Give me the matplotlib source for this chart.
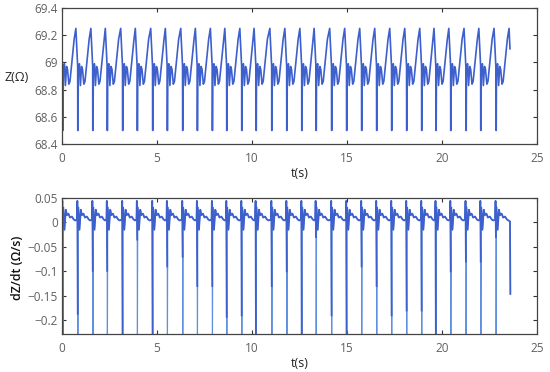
import numpy as np
import matplotlib
matplotlib.use('Agg')
import matplotlib.pyplot as plt
from matplotlib.ticker import FuncFormatter

# beat (systolic drop) times, seconds
beat_times = [0.04, 0.83, 1.62, 2.38, 3.19, 3.96, 4.77, 5.54, 6.35, 7.12,
              7.91, 8.67, 9.46, 10.21, 11.04, 11.83, 12.62, 13.37, 14.19, 14.98,
              15.77, 16.56, 17.35, 18.14, 18.93, 19.68, 20.46, 21.26, 22.04, 22.84]
end_beat = 23.63      # the record stops just before this beat
t_stop = 23.60

# one impedance cycle, offsets (s) from the beat and Z values (ohm)
z_offsets = [-0.10, -0.05, -0.004, 0.0, 0.015, 0.03, 0.09, 0.14, 0.20, 0.25, 0.32, 0.38, 0.50, 0.60]
z_shape = [69.25, 69.10, 68.97, 68.50, 68.50, 68.97, 68.99, 68.83, 68.97, 68.95, 68.84, 68.86, 69.03, 69.17]
z_start = 69.02

# one dZ/dt cycle; None marks the spike depth, -0.30 is the off-scale sample
dz_offsets = [-0.04, -0.02, 0.0, 0.008, 0.03, 0.09, 0.16, 0.22, 0.30, 0.38, 0.48, 0.58, 0.66]
dz_shape = [0.006, 0.044, None, -0.30, 0.03, -0.015, 0.026, 0.015, 0.018, 0.010, 0.012, 0.006, 0.004]
# depth the spike reaches before running off the axis (-0.26 = off-scale)
dz_depths = [-0.26, -0.187, -0.099, -0.099, -0.26, -0.035, -0.26, -0.09, -0.07, -0.13,
             -0.13, -0.193, -0.19, -0.26, -0.13, -0.10, -0.26, -0.03, -0.19, -0.26,
             -0.09, -0.13, -0.19, -0.18, -0.18, -0.26, -0.10, -0.08, -0.08, -0.03]
dz_end_t = [23.58, 23.60]
dz_end_v = [0.002, -0.146]

# assemble the Z trace
tz, z = [0.0], [z_start]
for b in beat_times + [end_beat]:
    for off, v in zip(z_offsets, z_shape):
        if 0 < b + off <= t_stop:
            tz.append(b + off)
            z.append(v)

# assemble the dZ/dt trace
td, dz, offscale = [], [], []
for b, d in zip(beat_times, dz_depths):
    for off, v in zip(dz_offsets, dz_shape):
        if b + off < 0:
            continue
        td.append(b + off)
        dz.append(d if v is None else v)
        offscale.append(v == -0.30)
td += dz_end_t
dz += dz_end_v
offscale += [False, False]
td = np.array(td)
dz = np.array(dz)
dz_dark = np.ma.masked_where(np.array(offscale), dz)

line_col = '#3d60cc'
light_col = '#5f8fe0'

plt.rcParams['font.family'] = ['Open Sans', 'DejaVu Sans']
fig = plt.figure(figsize=(5.5, 3.72), dpi=100)
ax1 = fig.add_axes([0.1127, 0.6129, 0.8636, 0.3656])
ax2 = fig.add_axes([0.1127, 0.1022, 0.8636, 0.3656])

ax1.plot(tz, z, color=line_col, lw=1.2)
ax1.set_xlim(0, 25)
ax1.set_ylim(68.4, 69.4)
ax1.set_yticks([68.4, 68.6, 68.8, 69.0, 69.2, 69.4])
ax1.set_xticks([0, 5, 10, 15, 20, 25])

ax2.plot(td, dz, color=light_col, lw=0.8)
ax2.plot(td, dz_dark, color=line_col, lw=1.3)
ax2.set_xlim(0, 25)
ax2.set_ylim(-0.228, 0.05)
ax2.set_yticks([-0.2, -0.15, -0.1, -0.05, 0, 0.05])
ax2.set_xticks([0, 5, 10, 15, 20, 25])

fmt = FuncFormatter(lambda v, p: ('%g' % round(v, 4)).replace('-', '\u2212'))
for ax in (ax1, ax2):
    ax.yaxis.set_major_formatter(fmt)
    ax.tick_params(direction='in', length=3, width=0.8, top=True, right=True,
                   labelsize=8.5, labelcolor='#606060', color='#333333')
    ax.tick_params(axis='x', pad=6)
    ax.tick_params(axis='y', pad=3)
    for s in ax.spines.values():
        s.set_color('#444444')
        s.set_linewidth(0.9)
    ax.set_xlabel('t(s)', fontsize=9, labelpad=1, color='#222222')

ax1.set_ylabel('Z(\u03a9)', fontsize=9, rotation=0, ha='center', va='center', color='#222222')
ax1.yaxis.set_label_coords(-0.095, 0.49)
ax2.set_ylabel('dZ/dt (\u03a9/s)', fontsize=9, rotation=90, ha='center', va='center',
               color='#111111', fontweight='semibold')
ax2.yaxis.set_label_coords(-0.093, 0.485)

fig.savefig('out.png', dpi=100)
